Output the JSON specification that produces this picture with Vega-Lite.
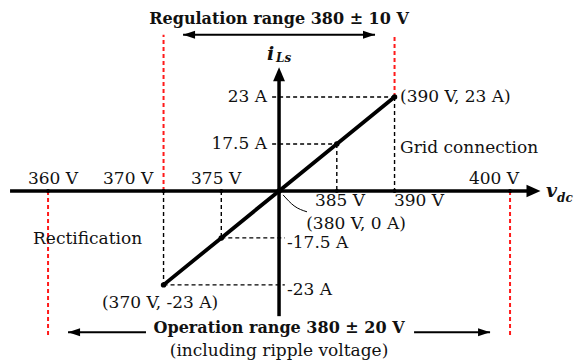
{
  "$schema": "https://vega.github.io/schema/vega-lite/v6.json",
  "width": 579,
  "height": 360,
  "autosize": {"type": "fit", "contains": "padding"},
  "padding": 0,
  "background": "white",
  "config": {"view": {"stroke": null}},
  "datasets": {
    "redLines": [
      {"v": 360, "v2": 360, "i": 0, "i2": -27.23},
      {"v": 370, "v2": 370, "i": 0, "i2": 28.1},
      {"v": 390, "v2": 390, "i": 23, "i2": 28.1},
      {"v": 400, "v2": 400, "i": 0, "i2": -27.23}
    ],
    "guideLines": [
      {"v": 379.4, "v2": 390, "i": 23, "i2": 23},
      {"v": 390, "v2": 390, "i": 23, "i2": 0},
      {"v": 379.4, "v2": 385, "i": 17.5, "i2": 17.5},
      {"v": 385, "v2": 385, "i": 17.5, "i2": 0},
      {"v": 375, "v2": 375, "i": 0, "i2": -17.5},
      {"v": 375, "v2": 380.5, "i": -17.5, "i2": -17.5},
      {"v": 370, "v2": 370, "i": 0, "i2": -23},
      {"v": 370, "v2": 380.5, "i": -23, "i2": -23}
    ],
    "axisLines": [
      {"v": 356.71, "v2": 401.9, "i": 0, "i2": 0},
      {"v": 380, "v2": 380, "i": -25.76, "i2": 25.06}
    ],
    "rangeLines": [
      {"v": 371.69, "v2": 388.31, "i": 28.1, "i2": 28.1},
      {"v": 361.73, "v2": 368.48, "i": -27.01, "i2": -27.01},
      {"v": 391.69, "v2": 398.27, "i": -27.01, "i2": -27.01}
    ],
    "main": [
      {"v": 370, "i": -23},
      {"v": 375, "i": -17.5},
      {"v": 380, "i": 0},
      {"v": 385, "i": 17.5},
      {"v": 390, "i": 23}
    ],
    "leader": [
      {"v": 380.35, "i": -6.61},
      {"v": 381.3, "i": -11.13},
      {"v": 382.42, "i": -12.71}
    ],
    "axisDots": [
      {"v": 360, "i": 0}, {"v": 370, "i": 0}, {"v": 375, "i": 0},
      {"v": 385, "i": 0}, {"v": 390, "i": 0}, {"v": 400, "i": 0}
    ],
    "axisHeads": [
      {"v": 380, "i": 25.06, "dir": "up"},
      {"v": 402.03, "i": 0, "dir": "right"}
    ],
    "rangeHeads": [
      {"v": 372.21, "i": 28.1, "dir": "left"},
      {"v": 387.79, "i": 28.1, "dir": "right"},
      {"v": 362.25, "i": -27.01, "dir": "left"},
      {"v": 397.75, "i": -27.01, "dir": "right"}
    ],
    "labels": [
      {"t": "360 V", "v": 360.43, "i": 10.19, "a": "center"},
      {"t": "370 V", "v": 366.93, "i": 10.19, "a": "center"},
      {"t": "375 V", "v": 374.55, "i": 10.19, "a": "center"},
      {"t": "400 V", "v": 398.61, "i": 10.19, "a": "center"},
      {"t": "385 V", "v": 385.28, "i": -9.49, "a": "center"},
      {"t": "390 V", "v": 392.12, "i": -9.49, "a": "center"},
      {"t": "(380 V, 0 A)", "v": 386.67, "i": -15.19, "a": "center"},
      {"t": "(370 V, -23 A)", "v": 369.7, "i": -24.68, "a": "center"},
      {"t": "(including ripple voltage)", "v": 380, "i": -28.38, "a": "center"},
      {"t": "23 A", "v": 378.96, "i": 23, "a": "right"},
      {"t": "17.5 A", "v": 378.96, "i": 17.5, "a": "right"},
      {"t": "-17.5 A", "v": 380.69, "i": -18.17, "a": "left"},
      {"t": "-23 A", "v": 380.69, "i": -23.52, "a": "left"},
      {"t": "(390 V, 23 A)", "v": 390.48, "i": 23, "a": "left"},
      {"t": "Grid connection", "v": 390.48, "i": 16.86, "a": "left"},
      {"t": "Rectification", "v": 358.7, "i": -17.61, "a": "left"}
    ],
    "titles": [
      {"t": "Regulation range 380 ± 10 V", "v": 380, "i": 29.19},
      {"t": "Operation range 380 ± 20 V", "v": 380, "i": -26.7}
    ],
    "symbols": [
      {"t": "i", "v": 378.96, "i": 26.24, "s": "main"},
      {"t": "Ls", "v": 379.74, "i": 26.08, "s": "sub"},
      {"t": "v", "v": 403.12, "i": -7.76, "s": "main"},
      {"t": "dc", "v": 404.07, "i": -9.85, "s": "sub"}
    ]
  },
  "encoding": {
    "x": {"field": "v", "type": "quantitative", "axis": null,
          "scale": {"domain": [355.84, 405.97], "nice": false, "zero": false}},
    "y": {"field": "i", "type": "quantitative", "axis": null,
          "scale": {"type": "pow", "exponent": 2.5363, "domain": [-28.86, 30.42], "nice": false, "zero": false}}
  },
  "resolve": {"scale": {"shape": "independent"}},
  "layer": [
    {
      "data": {"name": "redLines"},
      "mark": {"type": "rule", "color": "#ff1a1a", "strokeWidth": 2, "strokeDash": [4, 3]},
      "encoding": {"x2": {"field": "v2"}, "y2": {"field": "i2"}}
    },
    {
      "data": {"name": "guideLines"},
      "mark": {"type": "rule", "color": "black", "strokeWidth": 1.4, "strokeDash": [4, 3]},
      "encoding": {"x2": {"field": "v2"}, "y2": {"field": "i2"}}
    },
    {
      "data": {"name": "axisLines"},
      "mark": {"type": "rule", "color": "black", "strokeWidth": 3.5},
      "encoding": {"x2": {"field": "v2"}, "y2": {"field": "i2"}}
    },
    {
      "data": {"name": "rangeLines"},
      "mark": {"type": "rule", "color": "black", "strokeWidth": 2},
      "encoding": {"x2": {"field": "v2"}, "y2": {"field": "i2"}}
    },
    {
      "data": {"name": "main"},
      "mark": {"type": "line", "color": "black", "strokeWidth": 3.8},
      "encoding": {}
    },
    {
      "data": {"name": "main"},
      "mark": {"type": "point", "filled": true, "color": "black", "size": 30, "opacity": 1},
      "encoding": {}
    },
    {
      "data": {"name": "leader"},
      "mark": {"type": "line", "color": "black", "strokeWidth": 1, "interpolate": "monotone"},
      "encoding": {}
    },
    {
      "data": {"name": "axisDots"},
      "mark": {"type": "point", "filled": true, "color": "black", "size": 16, "opacity": 1},
      "encoding": {}
    },
    {
      "data": {"name": "axisHeads"},
      "mark": {"type": "point", "filled": true, "color": "black", "opacity": 1, "size": 196},
      "encoding": {
        "shape": {"field": "dir", "type": "nominal", "legend": null,
          "scale": {"domain": ["up", "right", "left"], "range": ["M-0.85,1L0,-1L0.85,1Z", "M-1,-0.9L1,0L-1,0.9Z", "M1,-0.9L-1,0L1,0.9Z"]}}
      }
    },
    {
      "data": {"name": "rangeHeads"},
      "mark": {"type": "point", "filled": true, "color": "black", "opacity": 1, "size": 144},
      "encoding": {
        "shape": {"field": "dir", "type": "nominal", "legend": null,
          "scale": {"domain": ["up", "right", "left"], "range": ["M-0.85,1L0,-1L0.85,1Z", "M-1,-0.67L1,0L-1,0.67Z", "M1,-0.67L-1,0L1,0.67Z"]}}
      }
    },
    {
      "data": {"name": "labels"},
      "transform": [{"filter": "datum.a === 'center'"}],
      "mark": {"type": "text", "font": "DejaVu Serif", "fontSize": 17, "align": "center", "baseline": "middle", "color": "#111"},
      "encoding": {"text": {"field": "t"}}
    },
    {
      "data": {"name": "labels"},
      "transform": [{"filter": "datum.a === 'left'"}],
      "mark": {"type": "text", "font": "DejaVu Serif", "fontSize": 17, "align": "left", "baseline": "middle", "color": "#111"},
      "encoding": {"text": {"field": "t"}}
    },
    {
      "data": {"name": "labels"},
      "transform": [{"filter": "datum.a === 'right'"}],
      "mark": {"type": "text", "font": "DejaVu Serif", "fontSize": 17, "align": "right", "baseline": "middle", "color": "#111"},
      "encoding": {"text": {"field": "t"}}
    },
    {
      "data": {"name": "titles"},
      "mark": {"type": "text", "font": "DejaVu Serif", "fontSize": 16, "fontWeight": "bold", "align": "center", "baseline": "middle", "color": "#111"},
      "encoding": {"text": {"field": "t"}}
    },
    {
      "data": {"name": "symbols"},
      "transform": [{"filter": "datum.s === 'main'"}],
      "mark": {"type": "text", "font": "DejaVu Serif", "fontSize": 19, "fontWeight": "bold", "fontStyle": "italic", "align": "left", "baseline": "alphabetic", "color": "#111"},
      "encoding": {"text": {"field": "t"}}
    },
    {
      "data": {"name": "symbols"},
      "transform": [{"filter": "datum.s === 'sub'"}],
      "mark": {"type": "text", "font": "DejaVu Serif", "fontSize": 12, "fontWeight": "bold", "fontStyle": "italic", "align": "left", "baseline": "alphabetic", "color": "#111"},
      "encoding": {"text": {"field": "t"}}
    }
  ]
}
